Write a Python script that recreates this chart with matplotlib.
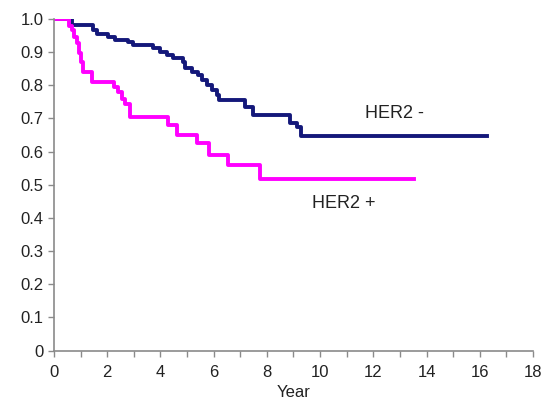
import numpy as np
import matplotlib.pyplot as plt

# Kaplan-Meier style step data
neg_time = [0, 0.66, 1.48, 1.60, 2.04, 2.30, 2.79, 2.98, 3.73, 3.98, 4.24, 4.49,
            4.86, 4.92, 5.18, 5.43, 5.55, 5.74, 5.93, 6.12, 6.20, 7.18, 7.49,
            8.87, 9.12, 9.28, 16.27]
neg_surv = [1.0, 0.981, 0.966, 0.956, 0.946, 0.938, 0.930, 0.921, 0.911, 0.900,
            0.891, 0.881, 0.871, 0.853, 0.841, 0.830, 0.815, 0.800, 0.785, 0.770,
            0.755, 0.735, 0.710, 0.685, 0.675, 0.647, 0.647]

pos_time = [0, 0.55, 0.68, 0.76, 0.85, 0.95, 1.02, 1.10, 1.42, 2.25, 2.42, 2.54,
            2.67, 2.86, 4.27, 4.61, 5.36, 5.83, 6.55, 7.74, 13.51]
pos_surv = [1.0, 0.98, 0.966, 0.946, 0.926, 0.896, 0.870, 0.840, 0.810, 0.795,
            0.780, 0.760, 0.745, 0.705, 0.680, 0.650, 0.625, 0.589, 0.559, 0.516,
            0.516]

plt.rcParams["font.family"] = ["Liberation Sans", "DejaVu Sans"]

fig = plt.figure(figsize=(5.45, 4.12), dpi=100)
ax = fig.add_axes([0.099, 0.149, 0.879, 0.805])

ax.step(neg_time, neg_surv, where="post", color="#14187a", lw=2.8)
ax.step(pos_time, pos_surv, where="post", color="#ff00ff", lw=2.8)

ax.text(12.8, 0.716, "HER2 -", fontsize=13, ha="center", va="center", color="#222222")
ax.text(10.9, 0.445, "HER2 +", fontsize=13, ha="center", va="center", color="#222222")

ax.set_xlim(0, 18)
ax.set_ylim(0, 1.0)
ax.set_xticks(np.arange(0, 19, 2))
ax.set_xticks(np.arange(1, 18, 2), minor=True)
ax.set_yticks(np.arange(0, 1.01, 0.1))
ax.set_yticklabels(["0"] + [f"{v:.1f}" for v in np.arange(0.1, 1.01, 0.1)])

for s in ["top", "right"]:
    ax.spines[s].set_visible(False)
for s in ["left", "bottom"]:
    ax.spines[s].set_color("#8a8a8a")
    ax.spines[s].set_linewidth(1.2)
ax.tick_params(which="both", direction="out", length=4, width=1, color="#8a8a8a",
               labelsize=12, labelcolor="#222222")
ax.tick_params(axis="x", pad=6)
ax.set_xlabel("Year", fontsize=12, color="#222222", labelpad=4)

fig.savefig("out.png", dpi=100)
